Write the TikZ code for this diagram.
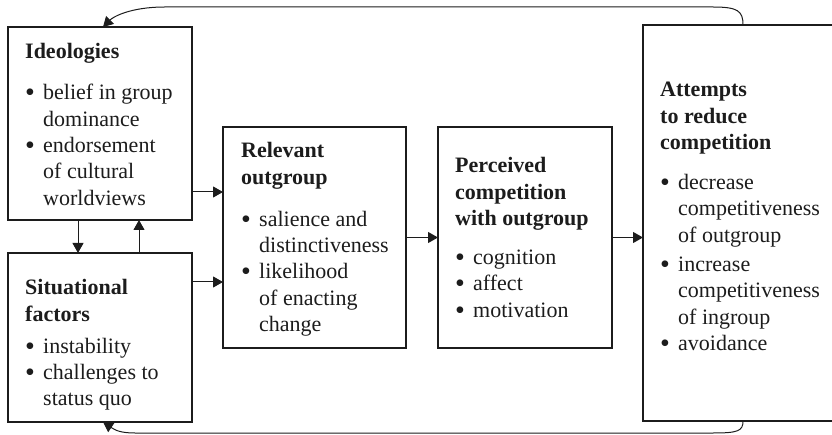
\documentclass[tikz,border=0pt]{standalone}
\usepackage{fontspec}
\setmainfont{Liberation Serif}
\usetikzlibrary{arrows.meta,calc}

\definecolor{ink}{HTML}{1C1C1C}

% text helpers for the box contents
\newcommand\boxhead[1]{\hbox{\bfseries #1}}
\newcommand\bigdot{\raisebox{-2pt}{\fontsize{28}{28}\selectfont\textbullet}}
\newcommand\bitem[1]{\hbox{\makebox[18pt][l]{\bigdot}#1}}
\newcommand\bcont[1]{\hbox{\hspace*{18pt}#1}}

\tikzset{
  box/.style={draw=ink, line width=1.3pt, anchor=north west, inner sep=0pt, outer sep=0pt},
  txt/.style={anchor=base west, inner sep=0pt, text=ink, font=\fontsize{22}{26.3}\selectfont},
  link/.style={draw=ink, line width=1pt, -{Triangle[length=10pt,width=11pt]}},
}

\begin{document}
\begin{tikzpicture}[x=1pt,y=-1pt]
\useasboundingbox (0,0) rectangle (832,435);
\clip (0,0) rectangle (832,435);

% boxes
\node[box, minimum width=184, minimum height=193] (ideo) at (8,27) {};
\node[box, minimum width=184, minimum height=169] (sit)  at (8,253) {};
\node[box, minimum width=183, minimum height=221] (rel)  at (223,127) {};
\node[box, minimum width=174, minimum height=221] (per)  at (438,127) {};
\node[box, minimum width=215, minimum height=396] (att)  at (643,25) {};

% box contents
\node[txt] (ideoT) at (25,59) {\vtop{%
  \boxhead{Ideologies}\vskip14.7pt
  \bitem{belief in group}\bcont{dominance}
  \bitem{endorsement}\bcont{of cultural}\bcont{worldviews}}};

\node[txt] (sitT) at (25,295) {\vtop{%
  \boxhead{Situational}\boxhead{factors}\vskip5.7pt
  \bitem{instability}\bitem{challenges to}\bcont{status quo}}};

\node[txt] (relT) at (241,158) {\vtop{%
  \boxhead{Relevant}\boxhead{outgroup}\vskip15.7pt
  \bitem{salience and}\bcont{distinctiveness}
  \bitem{likelihood}\bcont{of enacting}\bcont{change}}};

\node[txt] (perT) at (455,173) {\vtop{%
  \boxhead{Perceived}\boxhead{competition}\boxhead{with outgroup}\vskip12.7pt
  \bitem{cognition}\bitem{affect}\bitem{motivation}}};

\node[txt] (attT) at (660,97) {\vtop{%
  \boxhead{Attempts}\boxhead{to reduce}\boxhead{competition}\vskip13.7pt
  \bitem{decrease}\bcont{competitiveness}\bcont{of outgroup}\vskip3pt
  \bitem{increase}\bcont{competitiveness}\bcont{of ingroup}
  \bitem{avoidance}}};

% forward links
\draw[link] ($(ideo.north east)+(0,165)$) -- ($(rel.north west)+(0,65)$);
\draw[link] ($(sit.north east)+(0,29)$) -- ($(rel.north west)+(0,155)$);
\draw[link] (rel.east) -- (per.west);
\draw[link] (per.east) -- (att.west |- per.east);

% links between ideologies and situational factors
\draw[link] ($(ideo.south west)+(70,0)$) -- ($(sit.north west)+(70,0)$);
\draw[link] ($(sit.north west)+(131,0)$) -- ($(ideo.south west)+(131,0)$);

% feedback loops
\coordinate (topR) at ($(att.north west)+(70,-18)$);
\coordinate (topL) at ($(ideo.north west)+(157,-20)$);
\draw[link] ($(att.north west)+(100,0)$) .. controls +(0,-14) and +(25,0) .. (topR)
  -- (topL) .. controls +(-35,0) and +(10,-10) .. ($(ideo.north west)+(95,0)$);

\coordinate (botR) at ($(att.south west)+(70,12)$);
\coordinate (botL) at ($(sit.south west)+(127,11)$);
\draw[link] ($(att.south west)+(100,0)$) .. controls +(0,10) and +(25,0) .. (botR)
  -- (botL) .. controls +(-15,0) and +(12,8) .. ($(sit.south west)+(95,0)$);
\end{tikzpicture}
\end{document}
